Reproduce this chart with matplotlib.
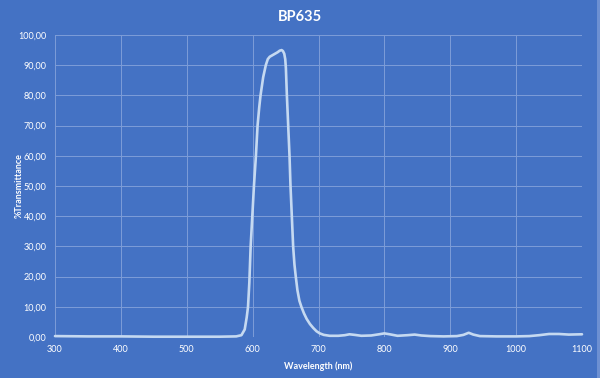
import matplotlib.pyplot as plt
from matplotlib.patches import Rectangle

plt.rcParams['font.family'] = ['Lato', 'DejaVu Sans']

# wavelength (nm) and %transmittance
wavelength = [300, 350, 400, 450, 500, 550, 575, 583, 588, 591, 593, 595, 597, 600, 602,
              605, 607.5, 610, 612, 616, 620, 623, 626, 630, 634, 638, 641, 644, 646, 648,
              649.5, 650.5, 652, 654, 656, 657.5, 659.5, 661.5, 663.5, 665.5, 668, 671, 674,
              678, 682, 687, 692, 697, 702, 708, 717, 730, 740, 747, 755, 765, 780, 792, 800,
              808, 820, 835, 846, 856, 870, 890, 910, 920, 928, 935, 945, 970, 1000, 1020,
              1035, 1050, 1065, 1080, 1100]
transmittance = [0.3, 0.2, 0.2, 0.1, 0.1, 0.1, 0.2, 0.6, 2.5, 6.5, 10, 18, 30, 42, 50,
                 60, 70, 76, 80, 86, 90, 92, 92.8, 93.3, 93.8, 94.3, 94.8, 95, 94.7, 93.8,
                 92, 89, 80, 70, 60, 50, 40, 30, 24, 20, 15.5, 12, 10,
                 7.8, 6, 4.3, 3, 1.9, 1.2, 0.7, 0.4, 0.4, 0.6, 0.9, 0.7, 0.4, 0.5, 0.9, 1.2,
                 0.9, 0.4, 0.6, 0.8, 0.5, 0.3, 0.2, 0.3, 0.7, 1.4, 0.8, 0.3, 0.2, 0.2, 0.3,
                 0.6, 1.0, 1.0, 0.8, 0.9]

x_ticks = [300, 400, 500, 600, 700, 800, 900, 1000, 1100]
y_ticks = [0, 10, 20, 30, 40, 50, 60, 70, 80, 90, 100]
y_labels = ["0,00", "10,00", "20,00", "30,00", "40,00", "50,00",
            "60,00", "70,00", "80,00", "90,00", "100,00"]

bg = "#4472C4"
grid_col = "#7D9DD8"
line_col = "#C5D9F1"

fig = plt.figure(figsize=(6, 3.78), dpi=100, facecolor=bg)
ax = fig.add_axes([55 / 600, 1 - 337 / 378, 527 / 600, 302 / 378])
ax.set_facecolor(bg)

# light strip on the right border
fig.patches.append(Rectangle((597 / 600, 0), 3 / 600, 1, transform=fig.transFigure,
                             facecolor="#6D90D2", edgecolor="none"))

ax.plot(wavelength, transmittance, color=line_col, lw=1.9,
        solid_joinstyle="round", solid_capstyle="round", zorder=3, clip_on=False)

ax.set_xlim(300, 1100)
ax.set_ylim(0, 100)
ax.set_xticks(x_ticks)
ax.set_xticklabels([str(v) for v in x_ticks])
ax.set_yticks(y_ticks)
ax.set_yticklabels(y_labels)
ax.grid(True, color=grid_col, lw=0.7)
ax.tick_params(length=0, colors="white", labelsize=6.5)
ax.tick_params(axis="x", pad=6)
ax.tick_params(axis="y", pad=6)
for s in ax.spines.values():
    s.set_visible(False)

ax.set_xlabel("Wavelength (nm)", color="white", fontsize=6.5, fontweight="bold")
ax.xaxis.set_label_coords(0.5, -24 / 302)
ax.set_ylabel("%Transmittance", color="white", fontsize=6.5, fontweight="bold")
ax.yaxis.set_label_coords(-31 / 527, 0.5)
fig.text(0.5, 1 - 17 / 378, "BP635", color="white", fontsize=10.5, fontweight="bold",
         ha="center", va="center")

fig.savefig("out.png", dpi=100, facecolor=bg)
